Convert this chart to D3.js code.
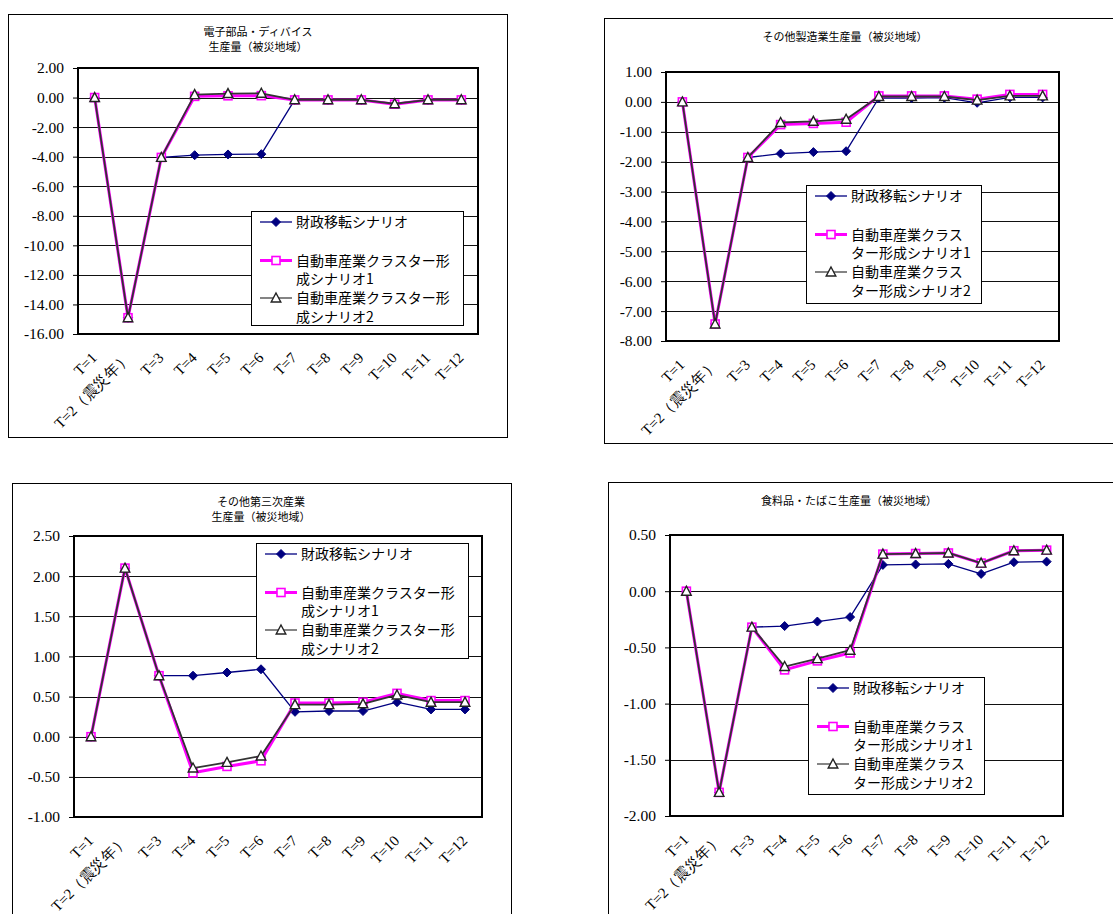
<!DOCTYPE html>
<html>
<head>
<meta charset="utf-8">
<script src="https://cdn.jsdelivr.net/npm/d3@7"></script>
<style>
  body { margin: 0; background: #fff; }
  svg { display: block; }
  .serif { font-family: "Liberation Serif", "Times New Roman", Tinos, "DejaVu Serif", serif; }
  .gothic { font-family: "Noto Sans CJK JP", "Noto Sans", sans-serif; }
</style>
</head>
<body>
<svg id="chart" width="1113" height="914"></svg>
<script>
// Periods on the horizontal axis
const categories = ["T=1", "T=2（震災年）", "T=3", "T=4", "T=5", "T=6", "T=7", "T=8", "T=9", "T=10", "T=11", "T=12"];

// Scenario names, wrapped two ways for the two legend widths
const legendWide = [["財政移転シナリオ"], ["自動車産業クラスター形", "成シナリオ1"], ["自動車産業クラスター形", "成シナリオ2"]];
const legendNarrow = [["財政移転シナリオ"], ["自動車産業クラス", "ター形成シナリオ1"], ["自動車産業クラス", "ター形成シナリオ2"]];

// 電子部品・ディバイス 生産量（被災地域）
const elecFiscal   = [0, -14.9, -4.05, -3.90, -3.85, -3.83, -0.16, -0.16, -0.16, -0.42, -0.16, -0.16];
const elecCluster1 = [0, -14.9, -4.05,  0.08,  0.12,  0.13, -0.16, -0.16, -0.16, -0.45, -0.16, -0.16];
const elecCluster2 = [0, -14.9, -4.05,  0.20,  0.27,  0.29, -0.15, -0.15, -0.15, -0.42, -0.15, -0.15];

// その他製造業生産量（被災地域）
const mfgFiscal   = [0, -7.43, -1.86, -1.73, -1.68, -1.65, 0.13, 0.13, 0.14, -0.03, 0.15, 0.15];
const mfgCluster1 = [0, -7.43, -1.86, -0.76, -0.72, -0.68, 0.20, 0.20, 0.20,  0.09, 0.25, 0.25];
const mfgCluster2 = [0, -7.43, -1.86, -0.69, -0.65, -0.58, 0.18, 0.18, 0.18,  0.06, 0.20, 0.20];

// その他第三次産業 生産量（被災地域）
const tertFiscal   = [0, 2.10, 0.76,  0.76,  0.80,  0.84, 0.31, 0.32, 0.32, 0.43, 0.34, 0.34];
const tertCluster1 = [0, 2.10, 0.76, -0.45, -0.37, -0.30, 0.42, 0.42, 0.43, 0.54, 0.45, 0.45];
const tertCluster2 = [0, 2.10, 0.76, -0.39, -0.32, -0.24, 0.40, 0.40, 0.41, 0.52, 0.43, 0.43];

// 食料品・たばこ生産量（被災地域）
const foodFiscal   = [0, -1.79, -0.32, -0.31, -0.27, -0.23,  0.234, 0.238, 0.243, 0.154, 0.258, 0.263];
const foodCluster1 = [0, -1.79, -0.32, -0.70, -0.62, -0.55,  0.33,  0.335, 0.34,  0.25,  0.36,  0.365];
const foodCluster2 = [0, -1.79, -0.32, -0.67, -0.60, -0.525, 0.33,  0.335, 0.34,  0.25,  0.36,  0.365];

const svg = d3.select("#chart");
const fmt = d3.formatLocale({ decimal: ".", thousands: ",", grouping: [3], currency: ["", ""], minus: "-" }).format(".2f");

// Series look: fiscal transfer (navy diamonds), cluster 1 (magenta squares), cluster 2 (dark triangles)
const styles = [
  { stroke: "#000080", width: 1.3, legendWidth: 1.3, marker: "diamond" },
  { stroke: "#ff00ff", width: 3,   legendWidth: 3,   marker: "square" },
  { stroke: "#333333", width: 1.8, legendWidth: 1.2, marker: "triangle" }
];

function drawMarker(g, kind, cx, cy) {
  if (kind === "diamond") {
    g.append("path").attr("d", `M${cx},${cy - 4.5}L${cx + 4.5},${cy}L${cx},${cy + 4.5}L${cx - 4.5},${cy}Z`)
      .attr("fill", "#000080").attr("stroke", "#000080").attr("stroke-width", 1);
  } else if (kind === "square") {
    g.append("rect").attr("x", cx - 4).attr("y", cy - 4).attr("width", 8).attr("height", 8)
      .attr("fill", "#fff").attr("stroke", "#ff00ff").attr("stroke-width", 1.6);
  } else {
    g.append("path").attr("d", `M${cx},${cy - 5}L${cx + 4.8},${cy + 4}L${cx - 4.8},${cy + 4}Z`)
      .attr("fill", "#fff").attr("stroke", "#222").attr("stroke-width", 1.4);
  }
}

function drawPanel(cfg) {
  const g = svg.append("g");

  // chart area frame
  g.append("rect").attr("x", cfg.box[0] + 0.5).attr("y", cfg.box[1] + 0.5)
    .attr("width", cfg.box[2] - cfg.box[0]).attr("height", cfg.box[3] - cfg.box[1])
    .attr("fill", "#fff").attr("stroke", "#000").attr("stroke-width", 1);

  // title
  const t = g.append("text").attr("class", "gothic").attr("text-anchor", "middle")
    .attr("font-size", 11).attr("fill", "#000");
  cfg.title.forEach((line, i) => {
    t.append("tspan").attr("x", cfg.titleX).attr("y", cfg.titleY + i * 15).text(line);
  });

  const [pl, pt, pr, pb] = cfg.plot;
  const x = d3.scalePoint().domain(categories).range([pl, pr]).padding(0.5);
  const y = d3.scaleLinear().domain(cfg.domain).range([pb, pt]);
  const ticks = d3.range(cfg.domain[0], cfg.domain[1] + cfg.step / 2, cfg.step);

  // gridlines
  g.append("g").selectAll("line").data(ticks).join("line")
    .attr("x1", pl).attr("x2", pr)
    .attr("y1", d => Math.round(y(d)) + 0.5).attr("y2", d => Math.round(y(d)) + 0.5)
    .attr("stroke", "#111").attr("stroke-width", 1);

  // y axis
  const ya = g.append("g").attr("transform", `translate(${pl},0)`)
    .call(d3.axisLeft(y).tickValues(ticks).tickFormat(fmt).tickSize(5).tickPadding(9));
  ya.select(".domain").remove();
  ya.attr("font-family", null).attr("font-size", null);
  ya.selectAll("line").attr("stroke", "#000");
  ya.selectAll("text").attr("class", "serif").style("font-size", "15.5px").attr("fill", "#000");

  // x axis labels, slanted
  const xa = g.append("g").attr("transform", `translate(0,${pb})`)
    .call(d3.axisBottom(x).tickSize(0));
  xa.select(".domain").remove();
  xa.attr("font-family", null).attr("font-size", null);
  xa.selectAll("text")
    .attr("class", "serif").style("font-size", "15px").attr("fill", "#000")
    .attr("text-anchor", "end").attr("x", 0).attr("y", 0).attr("dy", "0.35em")
    .attr("transform", "translate(-1,21) rotate(-45)");

  // plot border
  g.append("rect").attr("x", pl).attr("y", pt).attr("width", pr - pl).attr("height", pb - pt)
    .attr("fill", "none").attr("stroke", "#000").attr("stroke-width", 2);

  // series lines and markers
  const line = d3.line().x((d, i) => x(categories[i])).y(d => y(d));
  cfg.series.forEach((vals, si) => {
    const st = styles[si];
    const sg = g.append("g");
    sg.append("path").datum(vals).attr("d", line)
      .attr("fill", "none").attr("stroke", st.stroke).attr("stroke-width", st.width)
      .attr("stroke-linejoin", "round");
    vals.forEach((v, i) => drawMarker(sg, st.marker, x(categories[i]), y(v)));
  });

  // legend
  const [lx, ly, lw, lh] = cfg.legend;
  const lg = g.append("g");
  lg.append("rect").attr("x", lx + 0.5).attr("y", ly + 0.5).attr("width", lw).attr("height", lh)
    .attr("fill", "#fff").attr("stroke", "#000").attr("stroke-width", 1);
  const rowY = [[11], [49.5, 68], [87, 105.5]];
  cfg.legendLines.forEach((lines, si) => {
    const st = styles[si];
    const cy = ly + rowY[si][0];
    lg.append("line").attr("x1", lx + 9).attr("x2", lx + 41).attr("y1", cy).attr("y2", cy)
      .attr("stroke", st.stroke).attr("stroke-width", st.legendWidth);
    drawMarker(lg, st.marker, lx + 25, cy);
    lines.forEach((txt, li) => {
      lg.append("text").attr("class", "gothic").attr("x", lx + 45).attr("y", ly + rowY[si][li]).attr("dy", "0.36em")
        .attr("font-size", 14).attr("fill", "#000").text(txt);
    });
  });
}

drawPanel({
  box: [8, 14, 507, 437],
  title: ["電子部品・ディバイス", "生産量（被災地域）"], titleX: 258, titleY: 36,
  plot: [78, 68, 478, 334], domain: [-16, 2], step: 2,
  series: [elecFiscal, elecCluster1, elecCluster2],
  legend: [251, 211, 212, 114], legendLines: legendWide
});

drawPanel({
  box: [604, 18, 1125, 443],
  title: ["その他製造業生産量（被災地域）"], titleX: 845, titleY: 41,
  plot: [666, 72, 1059, 341], domain: [-8, 1], step: 1,
  series: [mfgFiscal, mfgCluster1, mfgCluster2],
  legend: [806, 185, 175, 118], legendLines: legendNarrow
});

drawPanel({
  box: [12, 483, 511, 930],
  title: ["その他第三次産業", "生産量（被災地域）"], titleX: 261, titleY: 506,
  plot: [74, 536, 482, 817], domain: [-1, 2.5], step: 0.5,
  series: [tertFiscal, tertCluster1, tertCluster2],
  legend: [256, 543, 212, 115], legendLines: legendWide
});

drawPanel({
  box: [608, 482, 1125, 930],
  title: ["食料品・たばこ生産量（被災地域）"], titleX: 849, titleY: 505,
  plot: [670, 535, 1063, 816], domain: [-2, 0.5], step: 0.5,
  series: [foodFiscal, foodCluster1, foodCluster2],
  legend: [808, 677, 176, 117], legendLines: legendNarrow
});
</script>
</body>
</html>
